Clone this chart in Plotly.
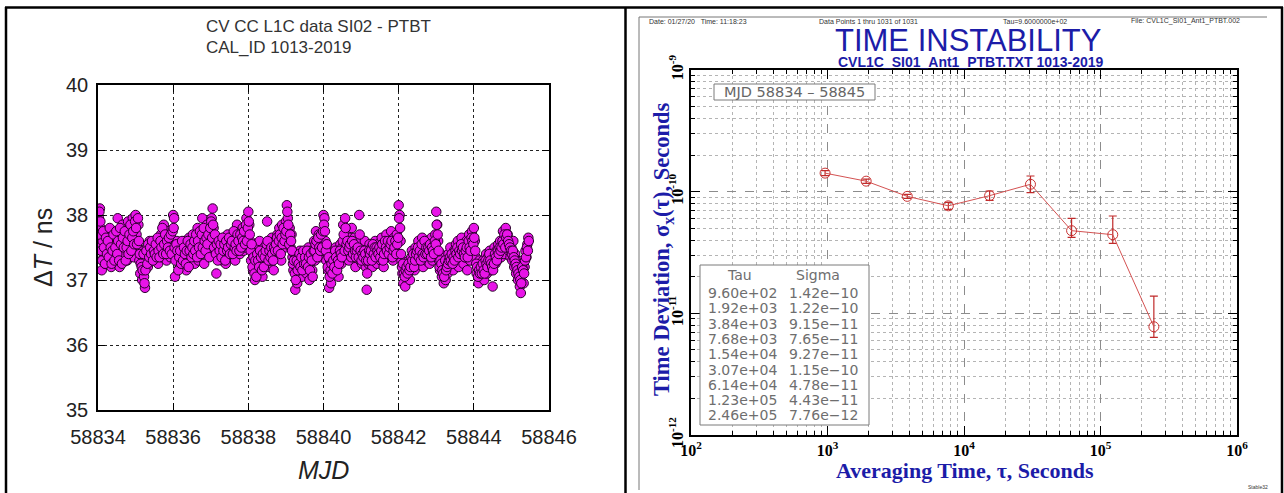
import plotly.graph_objects as go

W, H = 1284, 493

# ---------------- Left panel data (CV CC L1C data SI02 - PTBT) ----------------
mjd_start = 58834.0
mjd_step = 0.025
dT_ns_a = [
    37.55, 37.95, 38.1, 37.8, 37.15, 37.6, 37.35, 37.7, 37.25, 37.5,
    37.45, 37.65, 37.3, 37.7, 37.2, 37.55, 37.4, 37.75, 37.35, 37.6,
    37.25, 37.95, 37.5, 37.2, 37.7, 37.45, 37.85, 37.35, 37.6, 37.4,
    37.75, 37.3, 37.9, 37.55, 37.4, 37.8, 37.5, 37.95, 37.35, 37.65,
    38.0, 37.7, 37.5, 37.85, 37.3, 37.1, 37.45, 37.0, 37.25, 37.05,
    36.88, 37.3, 37.5, 37.2, 37.4, 37.6, 37.3, 37.45, 37.55, 37.35,
    37.5, 37.3, 37.6, 37.4, 37.25, 37.55, 37.45, 37.7, 37.35, 37.5,
    37.85, 37.45, 37.65, 37.3, 37.75, 37.5, 37.6, 37.35, 37.55, 37.4,
    38.0, 37.95, 37.05, 37.4, 37.6, 37.3, 37.5, 37.2, 37.55, 37.35,
    37.45, 37.2, 37.6, 37.35, 37.15, 37.5, 37.3, 37.65, 37.4, 37.55,
    37.35, 37.7, 37.5, 37.25, 37.6, 37.45, 37.8, 37.3, 37.55, 37.65,
    37.4, 37.95, 37.6, 37.25, 37.75, 37.5, 37.85, 37.45, 37.65, 37.55,
    37.7, 37.95, 38.1, 37.8, 37.5, 37.6, 37.1, 37.45, 37.35, 37.55,
    37.4, 37.6, 37.3, 37.5, 37.65, 37.45, 37.25, 37.55, 37.7, 37.4,
    37.5, 37.65, 37.35, 37.55, 37.45, 37.7, 37.3, 37.6, 37.85, 37.5,
    37.6, 37.4, 37.75, 37.55, 37.8, 37.45, 37.65, 37.5, 37.95, 37.7,
    38.05, 37.85, 37.6, 37.3, 37.5, 37.15, 37.4, 37.0, 37.25, 37.55,
    37.1, 37.35, 37.6, 37.2, 37.45, 37.05, 37.3, 37.5, 37.25, 37.4,
    37.9, 37.4, 37.2, 37.55, 37.3, 37.65, 37.45, 37.15, 37.6, 37.35,
    37.5, 37.7, 37.4, 37.8, 37.55, 37.3, 37.85, 37.6, 37.75, 37.5,
    37.9, 38.15, 37.95, 37.65, 37.8, 37.5, 37.7, 37.35, 37.15, 37.4,
    36.85, 37.2, 36.95, 37.35, 37.1, 37.45, 37.25, 37.05, 37.3, 37.4,
    37.2, 37.4, 37.1, 37.3, 37.5, 37.0, 37.25, 37.45, 37.15, 37.35,
    37.6, 37.3, 37.75, 37.5, 37.4, 37.7, 37.55, 37.35, 37.65, 37.45,
    38.0, 37.95, 37.6, 37.3, 37.45, 37.15, 36.88, 37.3, 36.95, 37.2,
    37.4, 37.1, 37.3, 37.5, 37.2, 37.45, 37.05, 37.35, 37.55, 37.25,
    37.5, 37.85, 37.6, 37.95, 37.4, 37.7, 37.55, 37.3, 37.65, 37.45,
    37.8, 37.5, 37.35, 37.65, 37.2, 37.55, 37.4, 37.6, 38.0, 37.3,
    37.45, 37.25, 37.5, 37.3, 37.6, 37.2, 36.85, 37.4, 37.25, 37.55,
    37.35, 37.5, 37.2, 37.45, 37.3, 37.6, 37.4, 37.25, 37.55, 37.35,
    37.5, 37.3, 37.65, 37.45, 37.2, 37.55, 37.4, 37.7, 37.35, 37.5,
    37.6, 37.4, 37.75, 37.5, 37.3, 37.65, 37.45, 37.55, 37.7, 37.4,
    38.15, 38.0, 37.6, 37.3, 37.1, 36.95, 37.2, 36.9, 37.05, 37.25,
    37.1, 37.3, 37.0, 37.25, 37.45, 37.2, 37.35, 37.15, 37.5, 37.3,
    37.4, 37.6, 37.25, 37.5, 37.35, 37.65, 37.2, 37.45, 37.55, 37.3,
    37.5, 37.35, 37.6, 37.25, 37.45, 37.65, 37.3, 37.55, 37.4, 37.7,
    38.05, 37.85, 37.6, 37.3, 37.15, 37.4, 37.05, 37.25, 36.95, 37.2,
    37.0, 37.3, 37.1, 37.4, 37.2, 37.5, 37.25, 37.35, 37.15, 37.45,
    37.3, 37.55, 37.4, 37.6, 37.2, 37.5, 37.35, 37.65, 37.45, 37.25,
    37.5, 37.35, 37.6, 37.15, 37.45, 37.7, 37.3, 37.55, 37.75, 37.4,
    37.8, 37.6, 37.35, 37.1, 37.2, 36.95, 37.3, 37.05, 37.25, 37.15,
    37.3, 37.0, 37.2, 37.4, 37.1, 37.35, 37.25, 37.45, 37.15, 37.3,
    36.9, 37.35, 37.5, 37.25, 37.45, 37.3, 37.55, 37.4, 37.6, 37.35,
    37.5, 37.75, 37.4, 37.65, 37.8, 37.55, 37.7, 37.45, 37.6, 37.35,
    37.5, 37.3, 37.6, 37.2, 37.4, 37.1, 37.3, 37.0, 37.25, 36.9,
    36.8, 37.1, 37.3, 36.95, 37.2, 37.45, 37.35, 37.55, 37.65,
]
# samples half a step later
dT_ns_b = [
    37.7, 38.05, 37.9, 37.45, 37.3, 37.75, 37.5, 37.25, 37.65, 37.4,
    37.6, 37.35, 37.8, 37.5, 37.25, 37.45, 37.7, 37.3, 37.5, 37.75,
    37.4, 37.6, 37.3, 37.8, 37.55, 37.25, 37.65, 37.5, 37.75, 37.3,
    37.5, 37.6, 37.4, 37.7, 37.85, 37.45, 37.65, 37.75, 37.55, 37.9,
    37.8, 37.55, 37.95, 37.6, 37.4, 37.25, 37.2, 37.15, 37.4, 36.95,
    37.15, 37.45, 37.25, 37.55, 37.35, 37.5, 37.4, 37.6, 37.3, 37.45,
    37.4, 37.55, 37.35, 37.65, 37.45, 37.35, 37.6, 37.5, 37.8, 37.4,
    37.55, 37.7, 37.4, 37.6, 37.5, 37.65, 37.45, 37.7, 37.4, 37.75,
    37.8, 37.5, 37.3, 37.55, 37.45, 37.15, 37.35, 37.45, 37.25, 37.6,
    37.3, 37.5, 37.4, 37.25, 37.45, 37.6, 37.2, 37.45, 37.55, 37.35,
    37.5, 37.4, 37.6, 37.45, 37.7, 37.35, 37.6, 37.5, 37.75, 37.4,
    37.7, 37.5, 37.8, 37.6, 37.45, 37.65, 37.55, 37.7, 37.35, 37.8,
    37.9, 37.65, 37.85, 37.5, 37.7, 37.4, 37.55, 37.3, 37.6, 37.45,
    37.55, 37.35, 37.65, 37.45, 37.55, 37.3, 37.6, 37.45, 37.5, 37.65,
    37.4, 37.55, 37.6, 37.4, 37.75, 37.5, 37.55, 37.45, 37.7, 37.6,
    37.45, 37.7, 37.5, 37.65, 37.6, 37.75, 37.55, 37.85, 37.6, 37.8,
    37.9, 37.7, 37.45, 37.55, 37.2, 37.35, 37.1, 37.3, 37.05, 37.4,
    37.3, 37.2, 37.45, 37.35, 37.15, 37.4, 37.2, 37.35, 37.45, 37.55,
    37.6, 37.3, 37.45, 37.35, 37.5, 37.4, 37.3, 37.5, 37.45, 37.55,
    37.65, 37.45, 37.6, 37.7, 37.4, 37.65, 37.55, 37.8, 37.6, 37.7,
    37.75, 38.05, 37.85, 37.55, 37.7, 37.6, 37.45, 37.25, 37.3, 37.1,
    37.0, 37.3, 37.15, 37.25, 37.4, 37.2, 37.35, 37.15, 37.45, 37.25,
    37.35, 37.25, 37.45, 37.2, 37.35, 37.15, 37.4, 37.3, 37.05, 37.45,
    37.45, 37.55, 37.6, 37.35, 37.65, 37.5, 37.45, 37.7, 37.5, 37.75,
    37.85, 37.75, 37.45, 37.55, 37.2, 37.35, 37.05, 37.15, 37.25, 37.1,
    37.3, 37.2, 37.45, 37.35, 37.15, 37.3, 37.25, 37.45, 37.4, 37.35,
    37.6, 37.7, 37.45, 37.8, 37.55, 37.6, 37.45, 37.5, 37.55, 37.35,
    37.6, 37.4, 37.55, 37.45, 37.35, 37.45, 37.5, 37.35, 37.7, 37.45,
    37.3, 37.4, 37.35, 37.45, 37.4, 37.3, 37.1, 37.3, 37.45, 37.4,
    37.45, 37.3, 37.55, 37.4, 37.5, 37.35, 37.5, 37.45, 37.4, 37.5,
    37.35, 37.45, 37.55, 37.3, 37.4, 37.6, 37.5, 37.45, 37.6, 37.4,
    37.5, 37.55, 37.6, 37.35, 37.45, 37.5, 37.6, 37.4, 37.55, 37.65,
    37.95, 37.8, 37.4, 37.2, 37.25, 37.1, 37.05, 37.15, 37.2, 37.1,
    37.25, 37.15, 37.2, 37.35, 37.3, 37.4, 37.2, 37.3, 37.4, 37.45,
    37.5, 37.35, 37.45, 37.3, 37.55, 37.4, 37.35, 37.6, 37.4, 37.5,
    37.4, 37.5, 37.45, 37.55, 37.35, 37.5, 37.45, 37.4, 37.6, 37.55,
    37.85, 37.7, 37.45, 37.2, 37.3, 37.25, 37.15, 37.1, 37.05, 37.3,
    37.15, 37.2, 37.25, 37.3, 37.35, 37.3, 37.4, 37.25, 37.35, 37.3,
    37.45, 37.4, 37.5, 37.35, 37.45, 37.4, 37.55, 37.45, 37.5, 37.4,
    37.35, 37.45, 37.5, 37.35, 37.6, 37.5, 37.45, 37.65, 37.6, 37.55,
    37.65, 37.45, 37.25, 37.2, 37.05, 37.15, 37.1, 37.2, 37.1, 37.25,
    37.15, 37.1, 37.3, 37.25, 37.2, 37.3, 37.4, 37.3, 37.25, 37.2,
    37.15, 37.25, 37.4, 37.35, 37.3, 37.45, 37.4, 37.5, 37.45, 37.5,
    37.6, 37.55, 37.7, 37.5, 37.65, 37.7, 37.6, 37.55, 37.5, 37.45,
    37.4, 37.45, 37.35, 37.3, 37.25, 37.2, 37.15, 37.1, 37.05, 37.0,
    36.95, 37.2, 37.15, 37.1, 37.3, 37.35, 37.5, 37.45, 37.6,
]
mjd_a = [mjd_start + i * mjd_step for i in range(len(dT_ns_a))]
mjd_b = [mjd_start + mjd_step / 2 + i * mjd_step for i in range(len(dT_ns_b))]

# ---------------- Right panel data (TIME INSTABILITY) ----------------
tau_s = [960, 1920, 3840, 7680, 15400, 30700, 61400, 123000, 246000]
sigma_s = [1.42e-10, 1.22e-10, 9.15e-11, 7.65e-11, 9.27e-11, 1.15e-10, 4.78e-11, 4.43e-11, 7.76e-12]
sigma_hi = [1.49e-10, 1.27e-10, 9.5e-11, 8.17e-11, 1.013e-10, 1.345e-10, 6.04e-11, 6.31e-11, 1.387e-11]
sigma_lo = [1.355e-10, 1.17e-10, 8.8e-11, 7.16e-11, 8.48e-11, 9.83e-11, 4.21e-11, 3.76e-11, 6.34e-12]

x_decades = [1e2, 1e3, 1e4, 1e5, 1e6]
x_decade_labels = ["10<sup>2</sup>", "10<sup>3</sup>", "10<sup>4</sup>", "10<sup>5</sup>", "10<sup>6</sup>"]
y_decades = [1e-12, 1e-11, 1e-10, 1e-9]
y_decade_labels = ["10<sup>-12</sup>", "10<sup>-11</sup>", "10<sup>-10</sup>", "10<sup>-9</sup>"]


def px(x):
    return x / W


def py(y):
    return 1 - y / H


BLUE = "#1c1ca8"
SANS = "Liberation Sans, Arial, sans-serif"
SERIF = "Liberation Serif, Times New Roman, serif"

fig = go.Figure()

fig.add_trace(go.Scatter(
    x=mjd_a + mjd_b, y=dT_ns_a + dT_ns_b, mode="markers", xaxis="x", yaxis="y",
    marker=dict(size=9.5, color="#e814e8", line=dict(color="#2a002a", width=1)),
    showlegend=False, hoverinfo="skip",
))

err_plus = [h - s for h, s in zip(sigma_hi, sigma_s)]
err_minus = [s - l for s, l in zip(sigma_s, sigma_lo)]
fig.add_trace(go.Scatter(
    x=tau_s, y=sigma_s, mode="lines+markers", xaxis="x2", yaxis="y2",
    line=dict(color="#d45252", width=1),
    marker=dict(symbol="circle-open", size=10, color="#c83232", line=dict(width=1)),
    error_y=dict(type="data", symmetric=False, array=err_plus, arrayminus=err_minus,
                 color="#c02a2a", thickness=1.2, width=4),
    showlegend=False, hoverinfo="skip",
))

common_left = dict(
    showgrid=True, gridcolor="#222222", griddash="dot", gridwidth=1,
    showline=True, linecolor="black", linewidth=1.5, mirror="allticks",
    ticks="inside", ticklen=7, tickcolor="black", zeroline=False, automargin=False,
    tickfont=dict(family=SANS, size=20, color="#222"),
)

minor_x = [m * 10 ** e for e in range(2, 6) for m in range(2, 10)]
minor_y = [m * 10.0 ** e for e in range(-12, -9) for m in range(2, 10)]
common_right = dict(
    type="log", showgrid=True, gridcolor="#8c8c8c", griddash="dash", gridwidth=1.3,
    showline=True, linecolor="black", linewidth=1.5, mirror="allticks",
    ticks="inside", ticklen=9, tickcolor="black", zeroline=False, automargin=False,
    tickfont=dict(family=SERIF, size=16, color="black", weight="bold"),
)

fig.update_layout(
    width=W, height=H, margin=dict(l=0, r=0, t=0, b=0, autoexpand=False),
    paper_bgcolor="white", plot_bgcolor="white",
    xaxis=dict(domain=[px(98), px(549)], range=[58834, 58846], tick0=58834, dtick=2,
               tickformat="d", tickangle=0,
               anchor="y", ticklabelstandoff=8, **common_left),
    yaxis=dict(domain=[py(410), py(85)], range=[35, 40], dtick=1, anchor="x", tickangle=0,
               ticklabelstandoff=4, **common_left),
    xaxis2=dict(domain=[px(691), px(1237)], range=[2, 6], anchor="y2", tickangle=0,
                tickmode="array", tickvals=x_decades, ticktext=x_decade_labels,
                minor=dict(tickmode="array", tickvals=minor_x, ticks="inside", ticklen=4,
                           tickcolor="black", showgrid=True, gridcolor="#b4b4b4",
                           griddash="dot", gridwidth=1),
                **common_right),
    yaxis2=dict(domain=[py(435), py(70)], range=[-12, -9], anchor="x2",
                tickmode="array", tickvals=y_decades, ticktext=y_decade_labels, tickangle=-90,
                minor=dict(tickmode="array", tickvals=minor_y, ticks="inside", ticklen=4,
                           tickcolor="black", showgrid=True, gridcolor="#b4b4b4",
                           griddash="dot", gridwidth=1),
                **common_right),
)

shapes = []
# outer frame and divider
for (x0, y0, x1, y1) in [(5, 7.5, 1283, 7.5), (6, 7, 6, 493), (1282, 7, 1282, 493), (625.5, 7, 625.5, 493)]:
    shapes.append(dict(type="line", xref="paper", yref="paper", x0=px(x0), y0=py(y0), x1=px(x1), y1=py(y1),
                       line=dict(color="black", width=2.5), layer="above"))
# right panel page frame
for (x0, y0, x1, y1) in [(639, 17, 1267, 17), (639, 17, 639, 490)]:
    shapes.append(dict(type="line", xref="paper", yref="paper", x0=px(x0), y0=py(y0), x1=px(x1), y1=py(y1),
                       line=dict(color="#777", width=1), layer="above"))
# MJD box and table box
for (x0, y0, x1, y1) in [(714, 84, 875, 100), (700, 265, 869, 425)]:
    shapes.append(dict(type="rect", xref="paper", yref="paper", x0=px(x0), y0=py(y0), x1=px(x1), y1=py(y1),
                       line=dict(color="#7a7a7a", width=1), fillcolor="white", layer="above"))
fig.update_layout(shapes=shapes)

ann = []


def text(x, y, s, size, color="#222", family=SANS, xanchor="center", yanchor="middle", angle=0, weight="normal"):
    ann.append(dict(xref="paper", yref="paper", x=px(x), y=py(y), text=s, showarrow=False,
                    xanchor=xanchor, yanchor=yanchor, textangle=angle, borderpad=0,
                    font=dict(family=family, size=size, color=color, weight=weight)))


# left panel texts
text(205, 27, "CV CC L1C data SI02 - PTBT", 17, color="#333", xanchor="left")
text(205, 47, "CAL_ID 1013-2019", 17, color="#333", xanchor="left")
text(43, 247, "Δ<i>T</i> / ns", 25, color="#222", angle=-90)
text(324, 470, "<i>MJD</i>", 25, color="#222")

# right panel header
text(648, 21, "Date: 01/27/20   Time: 11:18:23", 7, color="#333", xanchor="left")
text(818, 21, "Data Points 1 thru 1031 of 1031", 7, color="#333", xanchor="left")
text(1002, 21, "Tau=9.6000000e+02", 7, color="#333", xanchor="left")
text(1130, 21, "File: CVL1C_SI01_Ant1_PTBT.002", 7, color="#333", xanchor="left")
text(968, 40, "TIME INSTABILITY", 31, color=BLUE, family=SANS)
text(971, 62, "CVL1C_SI01_Ant1_PTBT.TXT 1013-2019", 14, color=BLUE, family=SANS, weight="bold")
text(794, 92, "MJD 58834 – 58845", 14.5, color="#666", family="DejaVu Sans, sans-serif")

# table
LIGHT = "#6e6e6e"
text(739, 275, "Tau", 14, color=LIGHT, family="DejaVu Sans, sans-serif")
text(818, 275, "Sigma", 14, color=LIGHT, family="DejaVu Sans, sans-serif")
for i, (t, s) in enumerate(zip(tau_s, sigma_s)):
    yy = 293 + i * 15.3
    text(707, yy, f"{t:.2e}", 14, color=LIGHT, family="DejaVu Sans, sans-serif", xanchor="left")
    text(788, yy, f"{s:.2e}".replace("-", "−"), 14, color=LIGHT, family="DejaVu Sans, sans-serif", xanchor="left")

# axis titles
text(663, 250, "Time Deviation, σ<sub>x</sub>(τ), Seconds", 22.5, color=BLUE, family=SERIF, angle=-90, weight="bold")
text(965, 470, "Averaging Time, τ, Seconds", 22, color=BLUE, family=SERIF, weight="bold")
text(1258, 487, "Stable32", 5, color="#333")

fig.update_layout(annotations=ann)

# remove the default page margin so the figure fills the 1284x493 window exactly
fig.write_html("out.html", config={"displayModeBar": False},
               post_script="document.body.style.margin='0px';document.body.style.overflow='hidden';")
